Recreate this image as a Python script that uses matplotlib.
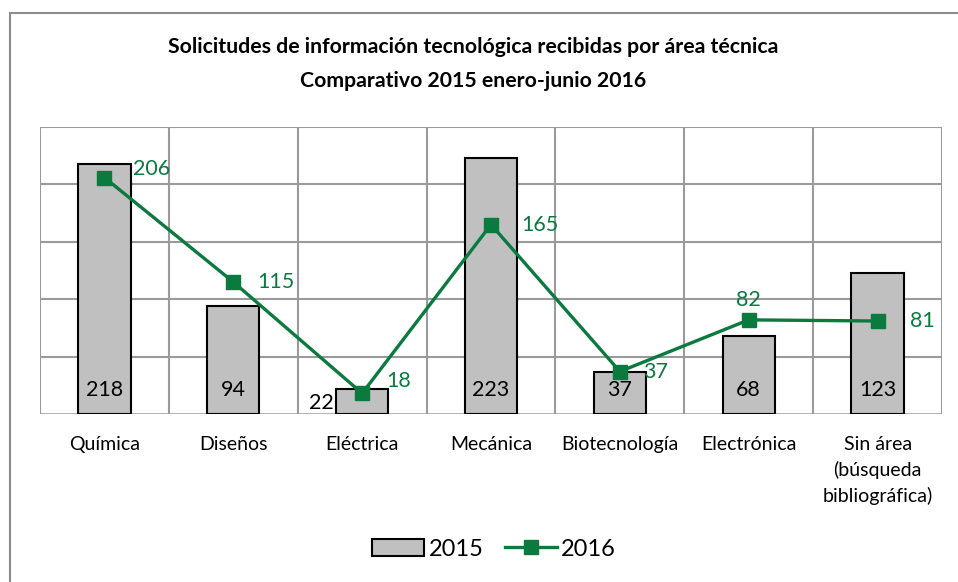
import numpy as np
import matplotlib.pyplot as plt
from matplotlib.patches import Rectangle
from matplotlib.lines import Line2D

categorias = ['Química', 'Diseños', 'Eléctrica', 'Mecánica', 'Biotecnología',
              'Electrónica', 'Sin área\n(búsqueda\nbibliográfica)']
v2015 = [218, 94, 22, 223, 37, 68, 123]
v2016 = [206, 115, 18, 165, 37, 82, 81]

verde = '#0b7a3e'
plt.rcParams['font.family'] = ['Lato', 'DejaVu Sans']

fig = plt.figure(figsize=(9.58, 5.82), dpi=100)
# marco exterior (solo arriba e izquierda visibles)
fig.patches.append(Rectangle((10 / 958, -0.1), 1.2, 1 - 13 / 582 + 0.1, transform=fig.transFigure,
                             fill=False, edgecolor='#8c8c8c', linewidth=1.5))

ax = fig.add_axes([40 / 958, (582 - 414) / 582, 902 / 958, 287 / 582])
x = np.arange(len(categorias))

ax.set_xlim(-0.5, 6.5)
ax.set_ylim(0, 250)
for yy in range(50, 251, 50):
    ax.axhline(yy, color='#9a9a9a', linewidth=1.5, zorder=0)
for xx in np.arange(-0.5, 7, 1):
    ax.axvline(xx, color='#9a9a9a', linewidth=1.5, zorder=0)
ax.axhline(0, color='#9a9a9a', linewidth=1.8, zorder=0)
for s in ax.spines.values():
    s.set_visible(False)

ax.bar(x, v2015, width=0.405, color='#c0c0c0', edgecolor='black', linewidth=1.5, zorder=2)
ax.plot(x, v2016, color=verde, linewidth=2.4, marker='s', markersize=10.5, zorder=3)

# etiquetas de barras
for i, v in enumerate(v2015):
    if v < 30:
        ax.annotate(str(v), (x[i] - 0.2, 0), xytext=(-3, 11), textcoords='offset pixels',
                    ha='right', va='center', fontsize=15.5)
    else:
        ax.annotate(str(v), (x[i], 0), xytext=(0, 24), textcoords='offset pixels',
                    ha='center', va='center', fontsize=15.5)

# etiquetas de la linea
desp = [(29, 9), (24, 0), (24, 12), (30, 0), (23, 0), (0, 20), (32, 0)]
for i, v in enumerate(v2016):
    dx, dy = desp[i]
    ax.annotate(str(v), (x[i], v), xytext=(dx, dy), textcoords='offset pixels',
                ha='left' if dx else 'center', va='center', fontsize=15.5, color=verde)

ax.set_xticks(x)
ax.set_xticklabels(categorias, fontsize=14, linespacing=1.52, va='top')
ax.tick_params(axis='x', length=0, pad=16)
ax.set_yticks([])

fig.text(0.494, 1 - 47 / 582, 'Solicitudes de información tecnológica recibidas por área técnica',
         ha='center', va='center', fontsize=15.3, fontweight='bold')
fig.text(0.494, 1 - 81 / 582, 'Comparativo 2015 enero-junio 2016',
         ha='center', va='center', fontsize=15.3, fontweight='bold')

handles = [Rectangle((0, 0), 1, 1, facecolor='#c0c0c0', edgecolor='black', linewidth=1.5),
           Line2D([], [], color=verde, linewidth=2.4, marker='s', markersize=10.5)]
fig.legend(handles, ['2015', '2016'], loc='center', bbox_to_anchor=(494 / 958, 1 - 549 / 582),
           ncol=2, frameon=False, fontsize=17, handlelength=2.2, handletextpad=0.2,
           columnspacing=0.9)

fig.savefig('out.png', dpi=100)
